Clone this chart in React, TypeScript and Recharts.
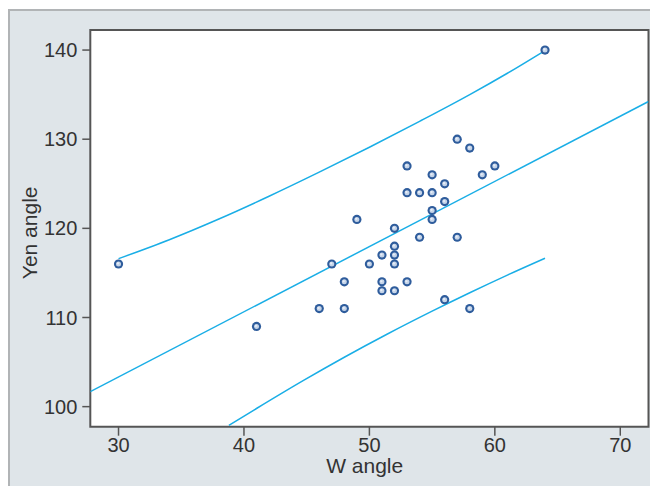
import React from 'react';
import { ComposedChart, Scatter, Line, XAxis, YAxis, CartesianGrid, ReferenceArea } from 'recharts';

const wAngle = [30, 41, 46, 47, 48, 48, 49, 50, 51, 51, 51, 52, 52, 52, 52, 52, 53, 53, 53, 54, 54, 55, 55, 55, 55, 56, 56, 56, 57, 57, 58, 58, 59, 60, 64];
const yenAngle = [116, 109, 111, 116, 114, 111, 121, 116, 117, 114, 113, 120, 118, 117, 116, 113, 127, 124, 114, 124, 119, 126, 124, 122, 121, 125, 123, 112, 130, 119, 129, 111, 126, 127, 140];

const fitX = [27.75, 72.25];
const fitY = [101.68, 134.23];

const upperX = [30, 34, 38, 42, 46, 50, 54, 58, 61, 64];
const upperY = [116.6, 118.7, 121.05, 123.6, 126.3, 129.1, 132.0, 135.0, 137.4, 139.95];

const lowerX = [38.8, 41, 44.75, 48, 51.4, 55, 58, 61, 64];
const lowerY = [97.9, 99.79, 102.94, 105.54, 108.12, 110.71, 112.78, 114.76, 116.65];

const xTicks = [30, 40, 50, 60, 70];
const yTicks = [100, 110, 120, 130, 140];
const xDomain = [27.75, 72.25];
const yDomain = [97.75, 142.25];

const points = wAngle.map((x, i) => ({ x, y: yenAngle[i] }));
const fitLine = fitX.map((x, i) => ({ x, y: fitY[i] }));
const upperLine = upperX.map((x, i) => ({ x, y: upperY[i] }));
const lowerLine = lowerX.map((x, i) => ({ x, y: lowerY[i] }));

const FONT = '"Liberation Sans", Arial, sans-serif';
const LINE = '#1aaee6';

const Dot = (props: any) => {
  const { cx, cy } = props;
  if (cx == null || cy == null) return null;
  return (
    <g>
      <circle cx={cx} cy={cy} r={4.6} fill="#2e5c9c" />
      <circle cx={cx} cy={cy} r={2.5} fill="#c5d4e8" />
      <circle cx={cx - 0.6} cy={cy - 0.6} r={1.1} fill="#e8eef7" />
    </g>
  );
};

const YTitle = (props: any) => {
  const vb = props.viewBox || {};
  const cx = vb.x + 29;
  const cy = vb.y + vb.height / 2 + 4.5;
  return (
    <text x={cx} y={cy} transform={`rotate(-90, ${cx}, ${cy})`} textAnchor="middle" fontFamily={FONT} fontSize={21} fill="#333">
      Yen angle
    </text>
  );
};

const XTitle = (props: any) => {
  const vb = props.viewBox || {};
  const cx = vb.x + vb.width / 2 - 4.7;
  const cy = vb.y + 46;
  return (
    <text x={cx} y={cy} textAnchor="middle" fontFamily={FONT} fontSize={21} fill="#333">
      W angle
    </text>
  );
};

export default function App() {
  return (
    <div style={{ position: 'relative', width: 650, height: 478 }}>
      <div
        style={{
          position: 'absolute',
          top: 1,
          left: 0,
          right: 0,
          bottom: 0,
          background: '#dfe5e9',
          borderTop: '2px solid #b1b4b6',
          borderLeft: '2px solid #b1b4b6',
        }}
      />
      <div style={{ position: 'absolute', top: 0, left: 0 }}>
        <ComposedChart width={650} height={478} margin={{ top: 22, right: 9.5, left: 0, bottom: 0 }}>
          <CartesianGrid horizontal={false} vertical={false} fill="#ffffff" />
          <XAxis
            type="number"
            dataKey="x"
            domain={xDomain}
            ticks={xTicks}
            allowDataOverflow
            height={59.3}
            axisLine={false}
            tickSize={9}
            tickMargin={2}
            tickLine={{ stroke: '#555', strokeWidth: 1.5 }}
            tick={{ fontFamily: FONT, fontSize: 20, fill: '#333' }}
            label={<XTitle />}
          />
          <YAxis
            type="number"
            dataKey="y"
            domain={yDomain}
            ticks={yTicks}
            allowDataOverflow
            width={82.3}
            axisLine={false}
            tickSize={8}
            tickMargin={5}
            tickLine={{ stroke: '#555', strokeWidth: 1.5 }}
            tick={{ fontFamily: FONT, fontSize: 20, fill: '#333' }}
            label={<YTitle />}
          />
          <Line data={fitLine} dataKey="y" type="linear" stroke={LINE} strokeWidth={1.5} dot={false} activeDot={false} isAnimationActive={false} />
          <Line data={upperLine} dataKey="y" type="monotone" stroke={LINE} strokeWidth={1.5} dot={false} activeDot={false} isAnimationActive={false} />
          <Line data={lowerLine} dataKey="y" type="monotone" stroke={LINE} strokeWidth={1.5} dot={false} activeDot={false} isAnimationActive={false} />
          <Scatter data={points} dataKey="y" shape={<Dot />} isAnimationActive={false} />
          <ReferenceArea x1={xDomain[0]} x2={xDomain[1]} y1={yDomain[0]} y2={yDomain[1]} fill="none" fillOpacity={0} stroke="#555" strokeWidth={2} ifOverflow="visible" />
        </ComposedChart>
      </div>
    </div>
  );
}
